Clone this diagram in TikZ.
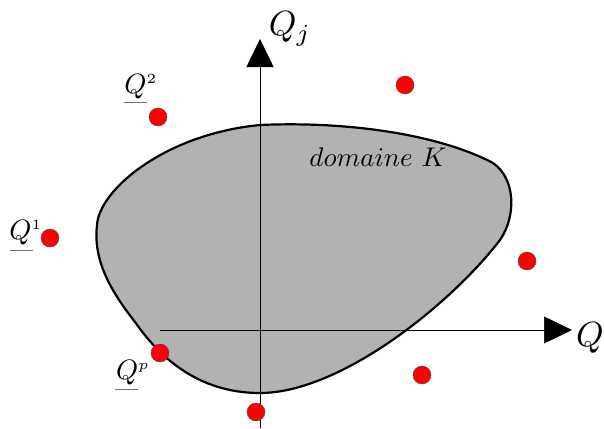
\documentclass[tikz,border=0pt]{standalone}
\usepackage{graphicx}
\usetikzlibrary{arrows.meta}
\begin{document}
\begin{tikzpicture}[x=1pt,y=-1pt,
  pt/.style={circle,fill=red,draw=black!70,line width=0.4pt,minimum size=18pt,inner sep=0pt},
  axis/.style={line width=0.5pt,-{Triangle[length=28pt,width=27pt]}},
  lbl/.style={inner sep=0pt},
  ul/.style={draw=black!55,line width=0.8pt}]
\useasboundingbox (0,0) rectangle (604,428);
\fill[white] (0,0) rectangle (604,428);
% domain
\filldraw[fill=black!30,draw=black,line width=2.2pt]
  (260,125) .. controls (350,121) and (440,135) .. (493,163)
  .. controls (515,178) and (517,215) .. (500,240)
  .. controls (450,305) and (340,393) .. (260,393)
  .. controls (205,393) and (165,365) .. (135,322)
  .. controls (110,290) and (93,260) .. (97,225)
  .. controls (99,190) and (165,134) .. (260,125) -- cycle;
% axes
\coordinate (vs) at (260,428);
\coordinate (ve) at (260,39);
\coordinate (hs) at (160,330);
\coordinate (he) at (572,330);
\draw[axis] (vs) -- (ve);
\draw[axis] (hs) -- (he);
\node[lbl] (qj) at (290,29) {\scalebox{3.5}{$Q_j$}};
\node[lbl] (q) at (590,338) {\scalebox{3.5}{$Q$}};
\node[lbl] (dk) at (378,157) {\scalebox{2.7}{$domaine\ K$}};
% points
\node[pt] (p2) at (158,117) {};
\node[pt] (p1) at (50,238) {};
\node[pt] (p3) at (405,85) {};
\node[pt] (p4) at (527,261) {};
\node[pt] (pp) at (160,353) {};
\node[pt] (p5) at (422,375) {};
\node[pt] (p6) at (256,412) {};
% labels
\node[lbl] (l2) at (141,87) {\scalebox{2.8}{$Q^{\scriptscriptstyle 2}$}};
\draw[ul] (124,102) -- (147,102);
\node[lbl] (l1) at (26,233) {\scalebox{2.8}{$Q^{\scriptscriptstyle 1}$}};
\draw[ul] (10,250) -- (33,250);
\node[lbl] (lp) at (133,373) {\scalebox{2.8}{$Q^{\scriptscriptstyle p}$}};
\draw[ul] (115,389) -- (138,389);
\end{tikzpicture}
\end{document}
